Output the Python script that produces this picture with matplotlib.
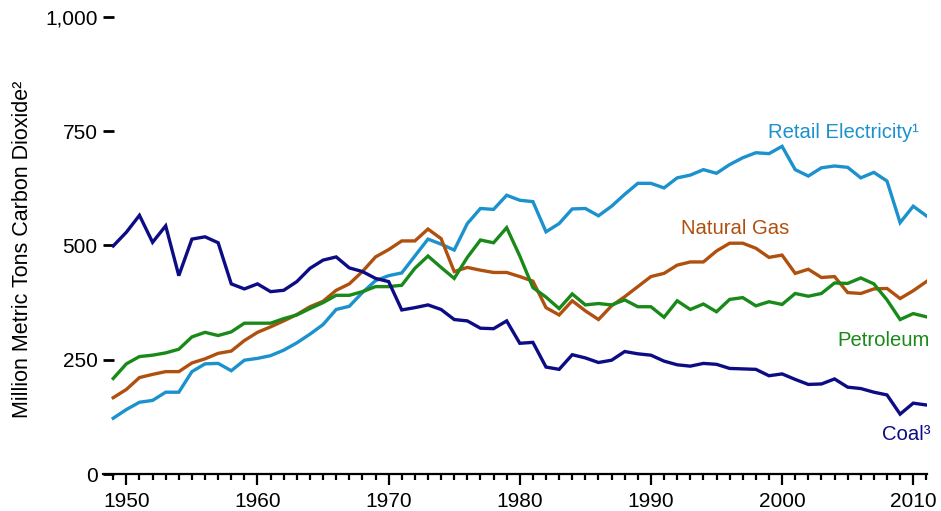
import numpy as np
import matplotlib.pyplot as plt
from matplotlib.ticker import MultipleLocator, FuncFormatter

plt.rcParams["font.family"] = ["Liberation Sans", "DejaVu Sans"]

years = np.arange(1949, 2012)

# million metric tons CO2
electricity = [122, 141, 157, 161, 179, 179, 224, 241, 242, 226,
               249, 253, 259, 271, 287, 306, 327, 360, 367, 397,
               423, 434, 440, 477, 514, 503, 490, 548, 581, 579,
               610, 599, 596, 530, 548, 580, 581, 565, 586, 612,
               636, 636, 626, 648, 654, 666, 658, 677, 692, 703,
               701, 717, 666, 652, 670, 674, 671, 648, 660, 641,
               550, 586, 565]
natural_gas = [167, 185, 211, 218, 224, 224, 243, 252, 264, 269,
               292, 310, 322, 335, 349, 366, 378, 402, 416, 443,
               475, 491, 510, 510, 536, 515, 443, 452, 446, 441,
               441, 432, 422, 364, 348, 379, 357, 338, 368, 388,
               410, 432, 439, 457, 464, 464, 488, 505, 505, 494,
               474, 479, 439, 448, 430, 432, 397, 395, 405, 406,
               384, 401, 421]
petroleum = [209, 241, 257, 260, 265, 273, 300, 310, 303, 311,
             330, 330, 330, 340, 348, 362, 375, 391, 391, 399,
             410, 410, 413, 450, 477, 452, 428, 474, 512, 506,
             539, 477, 408, 387, 362, 394, 370, 373, 370, 381,
             366, 366, 343, 379, 360, 372, 355, 382, 386, 368,
             377, 371, 395, 389, 395, 418, 417, 429, 416, 381,
             338, 351, 344]
coal = [499, 529, 566, 507, 543, 434, 514, 519, 506, 416,
        405, 416, 399, 402, 421, 450, 468, 475, 451, 443,
        428, 421, 359, 364, 370, 360, 338, 335, 319, 318,
        335, 286, 288, 234, 229, 261, 254, 244, 249, 268,
        263, 260, 247, 239, 236, 242, 240, 231, 230, 229,
        215, 219, 207, 196, 197, 208, 190, 187, 179, 173,
        131, 155, 151]

series = [
    (electricity, "#1b91cd", "Retail Electricity\u00b9", 2010.4, 748, "right"),
    (natural_gas, "#b0500f", "Natural Gas", 1996.4, 538, "center"),
    (petroleum, "#198a19", "Petroleum", 2007.7, 293, "center"),
    (coal, "#0c0c85", "Coal\u00b3", 2011.3, 87, "right"),
]

fig = plt.figure(figsize=(9.41, 5.11), dpi=100)
ax = fig.add_axes([103 / 941, 37 / 511, 824 / 941, 457 / 511])

for values, color, label, lx, ly, ha in series:
    ax.plot(years, values, color=color, lw=2.4, solid_joinstyle="miter")
    ax.text(lx, ly, label, color=color, fontsize=14.6, ha=ha, va="center")

ax.set_xlim(1948.22, 2011.05)
ax.set_ylim(0, 1000)

for side in ["left", "right", "top"]:
    ax.spines[side].set_visible(False)
ax.spines["bottom"].set_linewidth(1.6)

ax.set_yticks([0, 250, 500, 750, 1000])
ax.yaxis.set_major_formatter(FuncFormatter(lambda v, p: f"{int(v):,}"))
ax.tick_params(axis="y", direction="in", length=8, width=2, pad=4,
               labelsize=15)

ax.xaxis.set_major_locator(MultipleLocator(10))
ax.xaxis.set_minor_locator(MultipleLocator(1))
ax.tick_params(axis="x", which="major", direction="out", length=8, width=1.6,
               pad=5, labelsize=15)
ax.tick_params(axis="x", which="minor", direction="out", length=4.5,
               width=1.6)

fig.text(23 / 941, 1 - 249 / 511, "Million Metric Tons Carbon Dioxide\u00b2",
         rotation=90, ha="center", va="center", fontsize=15.5)

fig.savefig("out.png", dpi=100)
